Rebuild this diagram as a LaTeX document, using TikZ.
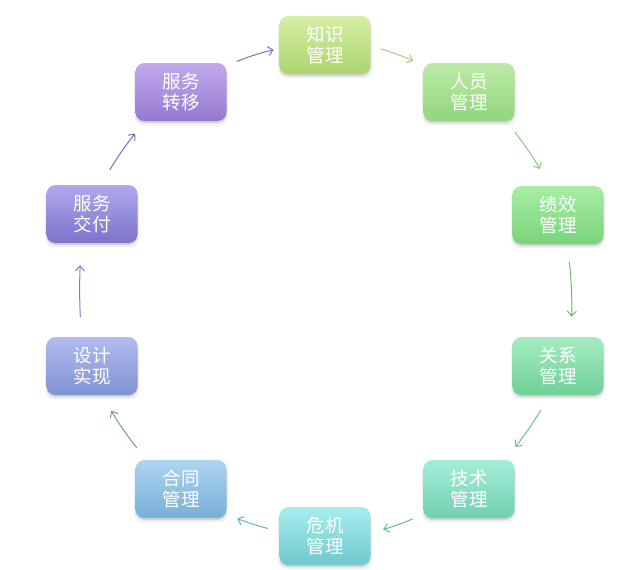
\documentclass[tikz,border=0pt]{standalone}
\usepackage{fontspec}
\newfontfamily\cjk{Noto Sans CJK SC}
\usetikzlibrary{arrows.meta,shadows}

% stage colours: top / bottom of each box, plus connector colour
\definecolor{zsT}{HTML}{D6EDA6}\definecolor{zsB}{HTML}{ADD56E}
\definecolor{ryT}{HTML}{BDEBA6}\definecolor{ryB}{HTML}{92D57F}
\definecolor{jxT}{HTML}{A8EDA6}\definecolor{jxB}{HTML}{78D479}
\definecolor{gxT}{HTML}{A4EDC0}\definecolor{gxB}{HTML}{70CF98}
\definecolor{jsT}{HTML}{A4EDD8}\definecolor{jsB}{HTML}{70D0B2}
\definecolor{wjT}{HTML}{A8EDEE}\definecolor{wjB}{HTML}{6FC8CC}
\definecolor{htT}{HTML}{ACD5F0}\definecolor{htB}{HTML}{78AFD6}
\definecolor{sjT}{HTML}{B0BCEE}\definecolor{sjB}{HTML}{7F92D2}
\definecolor{jfT}{HTML}{AEAAEE}\definecolor{jfB}{HTML}{7C72CA}
\definecolor{zyT}{HTML}{C2AAEE}\definecolor{zyB}{HTML}{9478CF}

\definecolor{aZY}{HTML}{8070B8}
\definecolor{aZS}{HTML}{A8CF72}
\definecolor{aRY}{HTML}{88C878}
\definecolor{aJX}{HTML}{66BE72}
\definecolor{aGX}{HTML}{6ABF90}
\definecolor{aJS}{HTML}{66B8A6}
\definecolor{aWJ}{HTML}{68AEC0}
\definecolor{aHT}{HTML}{7096B8}
\definecolor{aSJ}{HTML}{8080B8}
\definecolor{aJF}{HTML}{7870C0}

\begin{document}
\begin{tikzpicture}[x=1pt,y=1pt,
  softshadow/.style={
    general shadow={shadow yshift=-3.5pt, shadow scale=1.03, opacity=.06, fill=black},
    general shadow={shadow yshift=-2pt, opacity=.12, fill=black}},
  stage/.style 2 args={rounded corners=9pt, minimum width=91pt, minimum height=58pt,
    inner sep=0pt, top color=#1, bottom color=#2, draw=none, text=white,
    font=\cjk\fontsize{18.5}{21}\selectfont, align=center, softshadow},
  flow/.style={draw=#1, line width=1pt, -{Straight Barb[length=5pt,width=9pt]}},
]
\useasboundingbox (0,0) rectangle (629,-570);

% the ten stages, clockwise from the top
\node[stage={zsT}{zsB}] (zhishi)  at (325,-45)  {知识\\管理};
\node[stage={ryT}{ryB}] (renyuan) at (469,-92)  {人员\\管理};
\node[stage={jxT}{jxB}] (jixiao)  at (558,-215) {绩效\\管理};
\node[stage={gxT}{gxB}] (guanxi)  at (558,-366) {关系\\管理};
\node[stage={jsT}{jsB}] (jishu)   at (469,-489) {技术\\管理};
\node[stage={wjT}{wjB}] (weiji)   at (325,-536) {危机\\管理};
\node[stage={htT}{htB}] (hetong)  at (181,-489) {合同\\管理};
\node[stage={sjT}{sjB}] (sheji)   at (92,-366)  {设计\\实现};
\node[stage={jfT}{jfB}] (jiaofu)  at (92,-214)  {服务\\交付};
\node[stage={zyT}{zyB}] (zhuanyi) at (181,-92)  {服务\\转移};

% connectors around the ring, each leaving and entering at a border angle
\draw[flow=aZY, shorten <=11pt,   shorten >=5.8pt]  (zhuanyi.30.3)  to[bend left=4] (zhishi.184);
\draw[flow=aZS, shorten <=10.1pt, shorten >=11.2pt] (zhishi.-1.9)   to[bend left=4] (renyuan.150);
\draw[flow=aRY, shorten <=13.7pt, shorten >=19.4pt] (renyuan.-38.9) to[bend left=4] (jixiao.106.9);
\draw[flow=aJX, shorten <=18pt,   shorten >=20pt]   (jixiao.-72.2)  to[bend left=4] (guanxi.66.3);
\draw[flow=aGX, shorten <=17.4pt, shorten >=16.4pt] (guanxi.-106.9) to[bend left=4] (jishu.39.6);
\draw[flow=aJS, shorten <=11.4pt, shorten >=12.9pt] (jishu.209.5)   to[bend left=4] (weiji.4.5);
\draw[flow=aWJ, shorten <=11.8pt, shorten >=11.4pt] (weiji.174.9)   to[bend left=4] (hetong.-29.6);
\draw[flow=aHT, shorten <=15.1pt, shorten >=18.1pt] (hetong.140.4)  to[bend left=4] (sheji.-71.1);
\draw[flow=aSJ, shorten <=20pt,   shorten >=22pt]   (sheji.110.8)   to[bend left=3] (jiaofu.-110.8);
\draw[flow=aJF, shorten <=17.4pt, shorten >=15.8pt] (jiaofu.73.1)   to[bend left=4] (zhuanyi.-141.1);
\end{tikzpicture}
\end{document}
